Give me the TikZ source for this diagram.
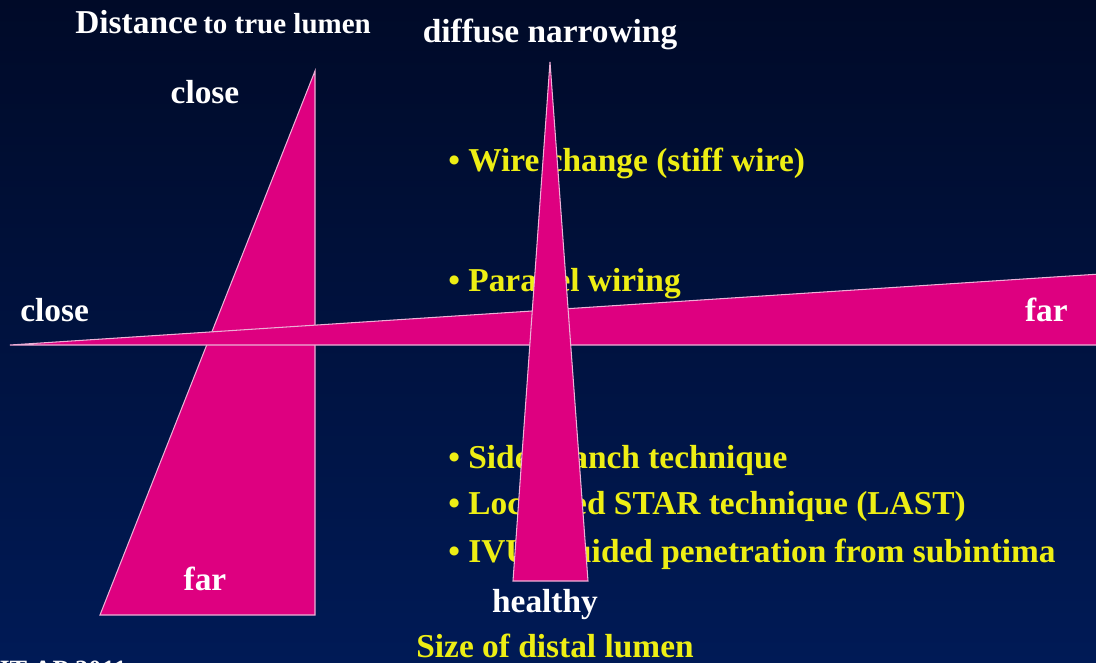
\documentclass[tikz,border=0pt]{standalone}
\usepackage{fontspec}
\setmainfont{Liberation Serif}
\usepackage{tikz}
\definecolor{wedge}{RGB}{222,0,128}
\definecolor{rim}{RGB}{236,176,214}
\definecolor{navytop}{RGB}{0,10,40}
\definecolor{navybot}{RGB}{0,26,86}
\definecolor{bultext}{RGB}{238,238,20}

\begin{document}
\begin{tikzpicture}[x=0.02cm, y=-0.02cm,
    lbl/.style={text=white, font=\bfseries\fontsize{19}{22}\selectfont, inner sep=0pt},
    bul/.style={text=bultext, font=\bfseries\fontsize{19}{22}\selectfont, inner sep=0pt, anchor=base west},
    wdg/.style={fill=wedge, draw=rim, line width=0.6pt, line join=miter}]
    \def\W{1096}
    \def\H{663}
    % background
    \useasboundingbox (0,0) rectangle (\W,\H);
    \shade[top color=navytop, bottom color=navybot] (0,0) rectangle (\W,\H);
    % treatment options (partly hidden by the wedges)
    \node[bul] (wire) at (448,171) {\textbullet\ Wire change (stiff wire)};
    \node[bul] (para) at (448,291) {\textbullet\ Parallel wiring};
    \node[bul] (side) at (448,468) {\textbullet\ Side branch technique};
    \node[bul] (last) at (448,514) {\textbullet\ Localized STAR technique (LAST)};
    \node[bul] (ivus) at (448,562) {\textbullet\ IVUS guided penetration from subintima};
    % distance wedge
    \draw[wdg] (315,71) -- (315,615) -- (100,615) -- cycle;
    % lumen size wedge (horizontal)
    \draw[wdg] (10,345) -- (1100,274) -- (1100,345) -- cycle;
    % narrowing wedge (vertical)
    \draw[wdg] (550,62) -- (588,581) -- (513,581) -- cycle;
    % axis labels
    \node[lbl, anchor=base west] (dist) at (75,33) {Distance\,{\fontsize{16.5}{20}\selectfont to true lumen}};
    \node[lbl, anchor=base] (diff) at (550,42) {diffuse narrowing};
    \node[lbl, anchor=base] (dclose) at (205,103) {close};
    \node[lbl, anchor=base] (dfar) at (205,590) {far};
    \node[lbl, anchor=base west] (lclose) at (20,321) {close};
    \node[lbl, anchor=base east] (lfar) at (1068,321) {far};
    \node[lbl, anchor=base] (heal) at (545,612) {healthy};
    \node[bul, anchor=base] (size) at (555,657) {Size of distal lumen};
    % source line, cut off at the lower edge
    \begin{scope}
        \clip (0,0) rectangle (\W,\H);
        \node[lbl, anchor=base west, font=\bfseries\fontsize{15}{18}\selectfont] (src) at (-4,678) {JT-AP 2011};
    \end{scope}
\end{tikzpicture}
\end{document}
